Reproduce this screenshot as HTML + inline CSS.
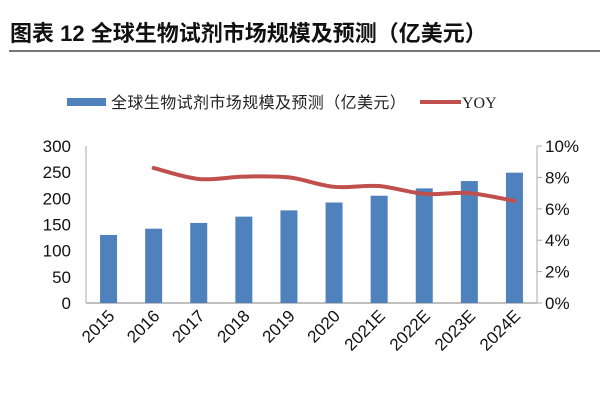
<!DOCTYPE html>
<html><head><meta charset="utf-8"><style>
body{margin:0;background:#fff;}
svg text{font-family:"Liberation Sans","Noto Sans CJK SC",sans-serif;}
</style></head><body>
<svg width="600" height="400" viewBox="0 0 600 400" xmlns="http://www.w3.org/2000/svg">
<text x="10" y="41" font-size="22" font-weight="bold" fill="#111">图表 12  全球生物试剂市场规模及预测（亿美元）</text>
<rect x="9" y="50" width="591" height="2" fill="#777"/>
<g>
<rect x="67" y="98" width="39" height="8" fill="#4f81bd"/>
<text x="111" y="108" font-size="16" fill="#222" letter-spacing="0.4">全球生物试剂市场规模及预测（亿美元）</text>
<rect x="420" y="100" width="41" height="4" fill="#c0504d"/>
<text x="462" y="108" font-size="16" fill="#222" style="font-family:'Liberation Serif',serif">YOY</text>
</g>
<g id="plot"></g>
</svg>
<script>
const categories=["2015","2016","2017","2018","2019","2020","2021E","2022E","2023E","2024E"];
const marketValues=[130,142,153,165,177,192,205,219,233,249];
const yoyValues=[null,8.6,7.9,8.05,8.0,7.4,7.45,6.95,7.0,6.5];
const leftTicks=[0,50,100,150,200,250,300];
const rightTicks=[0,2,4,6,8,10];
const NS="http://www.w3.org/2000/svg";
const L=86,R=537,T=146,B=303;
const xBand=(R-L)/categories.length;
const xC=i=>L+xBand*(i+0.5);
const yL=v=>B-(v/300)*(B-T);
const yR=v=>B-(v/10)*(B-T);
const g=document.getElementById('plot');
function mk(tag,attrs){const e=document.createElementNS(NS,tag);for(const k in attrs)e.setAttribute(k,attrs[k]);g.appendChild(e);return e;}
let a=mk('line',{x1:L,y1:T,x2:L,y2:B,stroke:'#aaa','stroke-width':1});


a=mk('line',{x1:R,y1:T,x2:R,y2:B,stroke:'#aaa','stroke-width':1});


a=mk('line',{x1:L,y1:B,x2:R,y2:B,stroke:'#aaa','stroke-width':1.5});


leftTicks.forEach(v=>{
 const t=mk('text',{x:L-15,y:yL(v)+6,'font-size':17,'text-anchor':'end',fill:'#111'});
 t.textContent=v;
 
 
});
rightTicks.forEach(v=>{
 const tk=mk('line',{x1:R,y1:yR(v),x2:R+5,y2:yR(v),stroke:'#aaa'});
 
 
 const t=mk('text',{x:R+8,y:yR(v)+6,'font-size':17,fill:'#111'});
 t.textContent=v+'%';
 
 
});
const bw=17;
categories.forEach((c,i)=>{
 const r=mk('rect',{x:xC(i)-bw/2,y:yL(marketValues[i]),width:bw,height:B-yL(marketValues[i]),fill:'#4f81bd'});
 
 
 const t=mk('text',{x:0,y:0,'font-size':17,'text-anchor':'end',fill:'#111',transform:`translate(${xC(i)+7},${B+14}) rotate(-45)`});
 t.textContent=c;
 
 
});
const pts=[];yoyValues.forEach((v,i)=>{if(v!==null)pts.push([xC(i),yR(v)]);});
let d='M'+pts[0][0]+','+pts[0][1];
for(let i=0;i<pts.length-1;i++){
 const p0=pts[i-1]||pts[i],p1=pts[i],p2=pts[i+1],p3=pts[i+2]||p2;
 const c1=[p1[0]+(p2[0]-p0[0])/6,p1[1]+(p2[1]-p0[1])/6],c2=[p2[0]-(p3[0]-p1[0])/6,p2[1]-(p3[1]-p1[1])/6];
 d+=` C${c1[0]},${c1[1]} ${c2[0]},${c2[1]} ${p2[0]},${p2[1]}`;
}
const ln=mk('path',{d:d,fill:'none',stroke:'#c0504d','stroke-width':4,'stroke-linecap':'round'});


</script>
</body></html>
